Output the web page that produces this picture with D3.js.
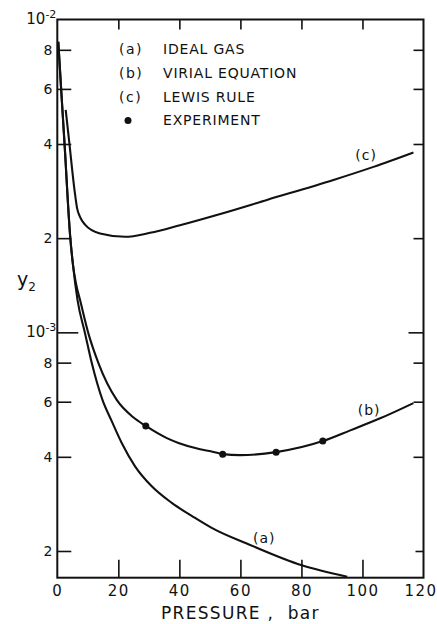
<!DOCTYPE html>
<html>
<head>
<meta charset="utf-8">
<script src="https://cdn.jsdelivr.net/npm/d3@7"></script>
<style>
  body { margin: 0; background: #fff; }
  svg { display: block; }
  text { font-family: "DejaVu Sans", sans-serif; fill: #111; }
  .curve { fill: none; stroke: #111; stroke-width: 2.1; }
  .tick line { stroke: #111; stroke-width: 1.6; }
  .domain { display: none; }
</style>
</head>
<body>
<div id="chart"><svg></svg></div>
<script>
const chartSize = {width: 437, height: 624};
const margin = {left: 57.3, right: 13.5, top: 19.5, bottom: 46.3};
const width = chartSize.width - margin.left - margin.right;
const height = chartSize.height - margin.top - margin.bottom;

// curve (a) ideal gas
const idealP = [0.33, 1.21, 2.33, 4.23, 5.15, 6.62, 9.08, 11.28, 14.8, 17.84, 21.11, 25.48, 30.95, 37.5, 45.15, 50.6, 63.2, 80.1, 95];
const idealY2 = [8.49e-3, 6.10e-3, 4.07e-3, 2.02e-3, 1.64e-3, 1.27e-3, 9.94e-4, 7.99e-4, 6.08e-4, 5.2e-4, 4.43e-4, 3.73e-4, 3.22e-4, 2.85e-4, 2.55e-4, 2.37e-4, 2.09e-4, 1.80e-4, 1.655e-4];

// curve (b) virial equation
const virialP = [0.33, 1.21, 2.33, 4.23, 5.15, 6.2, 7.44, 10.16, 13.44, 19.48, 24.9, 29.0, 35.9, 39.7, 46.8, 50.6, 54.2, 59.9, 71.7, 87.0, 96, 105.8, 116.7];
const virialY2 = [8.49e-3, 6.10e-3, 4.07e-3, 2.02e-3, 1.64e-3, 1.42e-3, 1.27e-3, 9.94e-4, 7.99e-4, 6.08e-4, 5.35e-4, 5.02e-4, 4.59e-4, 4.43e-4, 4.23e-4, 4.16e-4, 4.08e-4, 4.05e-4, 4.14e-4, 4.49e-4, 4.86e-4, 5.31e-4, 5.94e-4];

// curve (c) Lewis rule
const lewisP = [2.75, 3.90, 5.64, 6.46, 7.44, 9.08, 14.0, 22.2, 30.4, 40.2, 53.4, 68.7, 90.5, 103.6, 116.7];
const lewisY2 = [5.14e-3, 4.07e-3, 2.85e-3, 2.50e-3, 2.34e-3, 2.21e-3, 2.07e-3, 2.02e-3, 2.08e-3, 2.20e-3, 2.39e-3, 2.65e-3, 3.07e-3, 3.38e-3, 3.76e-3];

// experiment points
const exptP = [29.0, 54.2, 71.7, 87.0];
const exptY2 = [5.02e-4, 4.08e-4, 4.14e-4, 4.49e-4];

const xTicks = [0, 20, 40, 60, 80, 100, 120];
const yTicks = [1e-2, 8e-3, 6e-3, 4e-3, 2e-3, 1e-3, 8e-4, 6e-4, 4e-4, 2e-4];
const yTickLabels = ["10|-2", "8", "6", "4", "2", "10|-3", "8", "6", "4", "2"];

const legendKeys = ["(a)", "(b)", "(c)"];
const legendNames = ["IDEAL GAS", "VIRIAL EQUATION", "LEWIS RULE", "EXPERIMENT"];

const svg = d3.select("#chart svg")
  .attr("width", chartSize.width)
  .attr("height", chartSize.height);

const g = svg.append("g")
  .attr("transform", `translate(${margin.left},${margin.top})`);

const x = d3.scaleLinear().domain([0, 120]).range([0, width]);
const y = d3.scaleLog().domain([1.643e-4, 1e-2]).range([height, 0]);

// bottom axis, ticks pointing inside
const xAxis = d3.axisBottom(x).tickValues(xTicks).tickSize(-18).tickPadding(8);
const gx = g.append("g").attr("transform", `translate(0,${height})`).call(xAxis);
gx.selectAll("text").style("font-size", "15px").style("letter-spacing", "1.5px");
gx.selectAll(".tick").filter(d => d == 0 || d == 120).select("line").remove();
gx.selectAll(".tick").filter(d => d == 120).select("text").attr("dx", -3);

// top axis
g.append("g").call(d3.axisTop(x).tickValues(xTicks.slice(1, -1)).tickSize(-10).tickFormat(""));

// left axis
const yAxis = d3.axisLeft(y).tickValues(yTicks).tickSize(-14).tickPadding(5)
  .tickFormat(() => "");
const gy = g.append("g").call(yAxis);
gy.selectAll(".tick").each(function (d, i) {
  const t = d3.select(this);
  const label = yTickLabels[i].split("|");
  if (d == 1e-2) t.select("line").remove();
  if (d == 1e-3) t.select("line").attr("x2", 21);
  const txt = t.select("text").style("font-size", "14px");
  if (label.length == 1) {
    txt.text(label[0]);
  } else {
    txt.attr("text-anchor", "start").attr("x", -31);
    txt.append("tspan").text(label[0]).style("font-size", "15px");
    txt.append("tspan").text(label[1]).attr("dy", "-0.55em").style("font-size", "11px");
  }
});

// right axis
const gr = g.append("g").attr("transform", `translate(${width},0)`)
  .call(d3.axisRight(y).tickValues(yTicks.slice(1)).tickSize(-10).tickFormat(""));
gr.selectAll(".tick").filter(d => d == 1e-3).select("line").attr("x2", -15);
gr.selectAll(".tick").filter(d => d == 2e-4).select("line").attr("x2", -8);

// frame
g.append("rect")
  .attr("width", width).attr("height", height)
  .attr("fill", "none").attr("stroke", "#111").attr("stroke-width", 2);

const line = d3.line()
  .x(d => x(d[0]))
  .y(d => y(d[1]))
  .curve(d3.curveMonotoneX);

const series = [
  d3.zip(idealP, idealY2),
  d3.zip(virialP, virialY2),
  d3.zip(lewisP, lewisY2)
];

g.selectAll(".curve")
  .data(series)
  .enter()
  .append("path")
  .attr("class", "curve")
  .attr("d", line);

g.selectAll(".expt")
  .data(d3.zip(exptP, exptY2))
  .enter()
  .append("circle")
  .attr("class", "expt")
  .attr("cx", d => x(d[0]))
  .attr("cy", d => y(d[1]))
  .attr("r", 3.5)
  .attr("fill", "#111");

// curve labels
const curveLabels = [["(a)", 67.8, 2.205e-4], ["(b)", 102.2, 5.65e-4], ["(c)", 101.2, 3.69e-3]];
g.selectAll(".clabel")
  .data(curveLabels)
  .enter()
  .append("text")
  .attr("class", "clabel")
  .attr("x", d => x(d[1]))
  .attr("y", d => y(d[2]))
  .attr("dy", "0.36em")
  .attr("text-anchor", "middle")
  .style("font-size", "14px")
  .style("letter-spacing", "1px")
  .text(d => d[0]);

// legend
const legend = svg.append("g").attr("transform", "translate(119,54)");
legend.selectAll(".key")
  .data(legendKeys)
  .enter()
  .append("text")
  .attr("y", (d, i) => i * 23.8)
  .style("font-size", "14px")
  .style("letter-spacing", "1.5px")
  .text(d => d);
legend.append("circle")
  .attr("cx", 9)
  .attr("cy", 3 * 23.8 - 5)
  .attr("r", 3.5)
  .attr("fill", "#111");
legend.selectAll(".name")
  .data(legendNames)
  .enter()
  .append("text")
  .attr("x", 44)
  .attr("y", (d, i) => i * 23.8)
  .style("font-size", "14px")
  .style("letter-spacing", "0.8px")
  .text(d => d);

// axis titles
svg.append("text")
  .attr("x", margin.left + width / 2)
  .attr("y", 619)
  .attr("text-anchor", "middle")
  .style("font-size", "17px")
  .style("letter-spacing", "1.3px")
  .style("white-space", "pre")
  .text("PRESSURE ,  bar");

const yl = svg.append("text")
  .attr("x", 17)
  .attr("y", 286)
  .style("font-size", "19px");
yl.append("tspan").text("y");
yl.append("tspan").text("2").attr("dy", "0.4em").style("font-size", "12px");
</script>
</body>
</html>
